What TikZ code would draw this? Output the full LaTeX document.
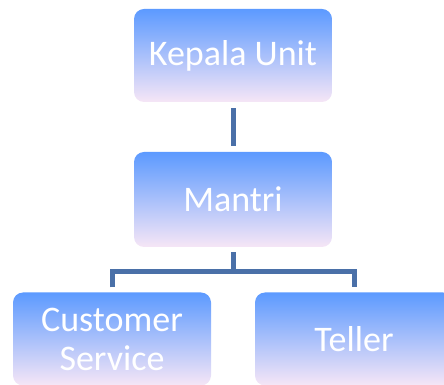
\documentclass[tikz,border=0pt]{standalone}
\usepackage{fontspec}
\setmainfont{Carlito}

\definecolor{boxtop}{RGB}{92,154,255}
\definecolor{boxmid}{RGB}{138,195,255}
\definecolor{boxbottom}{RGB}{246,230,246}
\definecolor{linkblue}{RGB}{74,112,168}

\begin{document}
\begin{tikzpicture}[x = 1pt, y = 1pt,
	unitbox/.style = {rounded corners = 10pt, top color = boxtop, middle color = boxmid,
		bottom color = boxbottom, minimum width = 198pt, minimum height = 93pt,
		inner sep = 0pt, align = center, text = white,
		font = \fontsize{36}{39}\selectfont},
	link/.style = {draw = linkblue, line width = 5pt}]

	\useasboundingbox (0, 0) rectangle (444, 385);

	% The boxes

	\node [unitbox] (kepala) at (233, 329.5) {Kepala Unit};
	\node [unitbox, minimum height = 95pt] (mantri) at (233, 185.5) {Mantri};
	\node [unitbox] (cs) at (112, 46) {Customer\\Service};
	\node [unitbox] (teller) at (354, 46) {Teller};

	\coordinate (fork) at (233, 113);

	% Links

	\begin{scope}[link]

		\draw [shorten < = 6pt, shorten > = 6pt] (kepala) -- (mantri);
		\draw [shorten < = 5pt] (mantri.south) -- (fork);
		\draw [shorten < = 5pt, shorten > = 5pt] (cs.north) -- (cs.north |- fork)
			-- (teller.north |- fork) -- (teller.north);

	\end{scope}

\end{tikzpicture}
\end{document}
